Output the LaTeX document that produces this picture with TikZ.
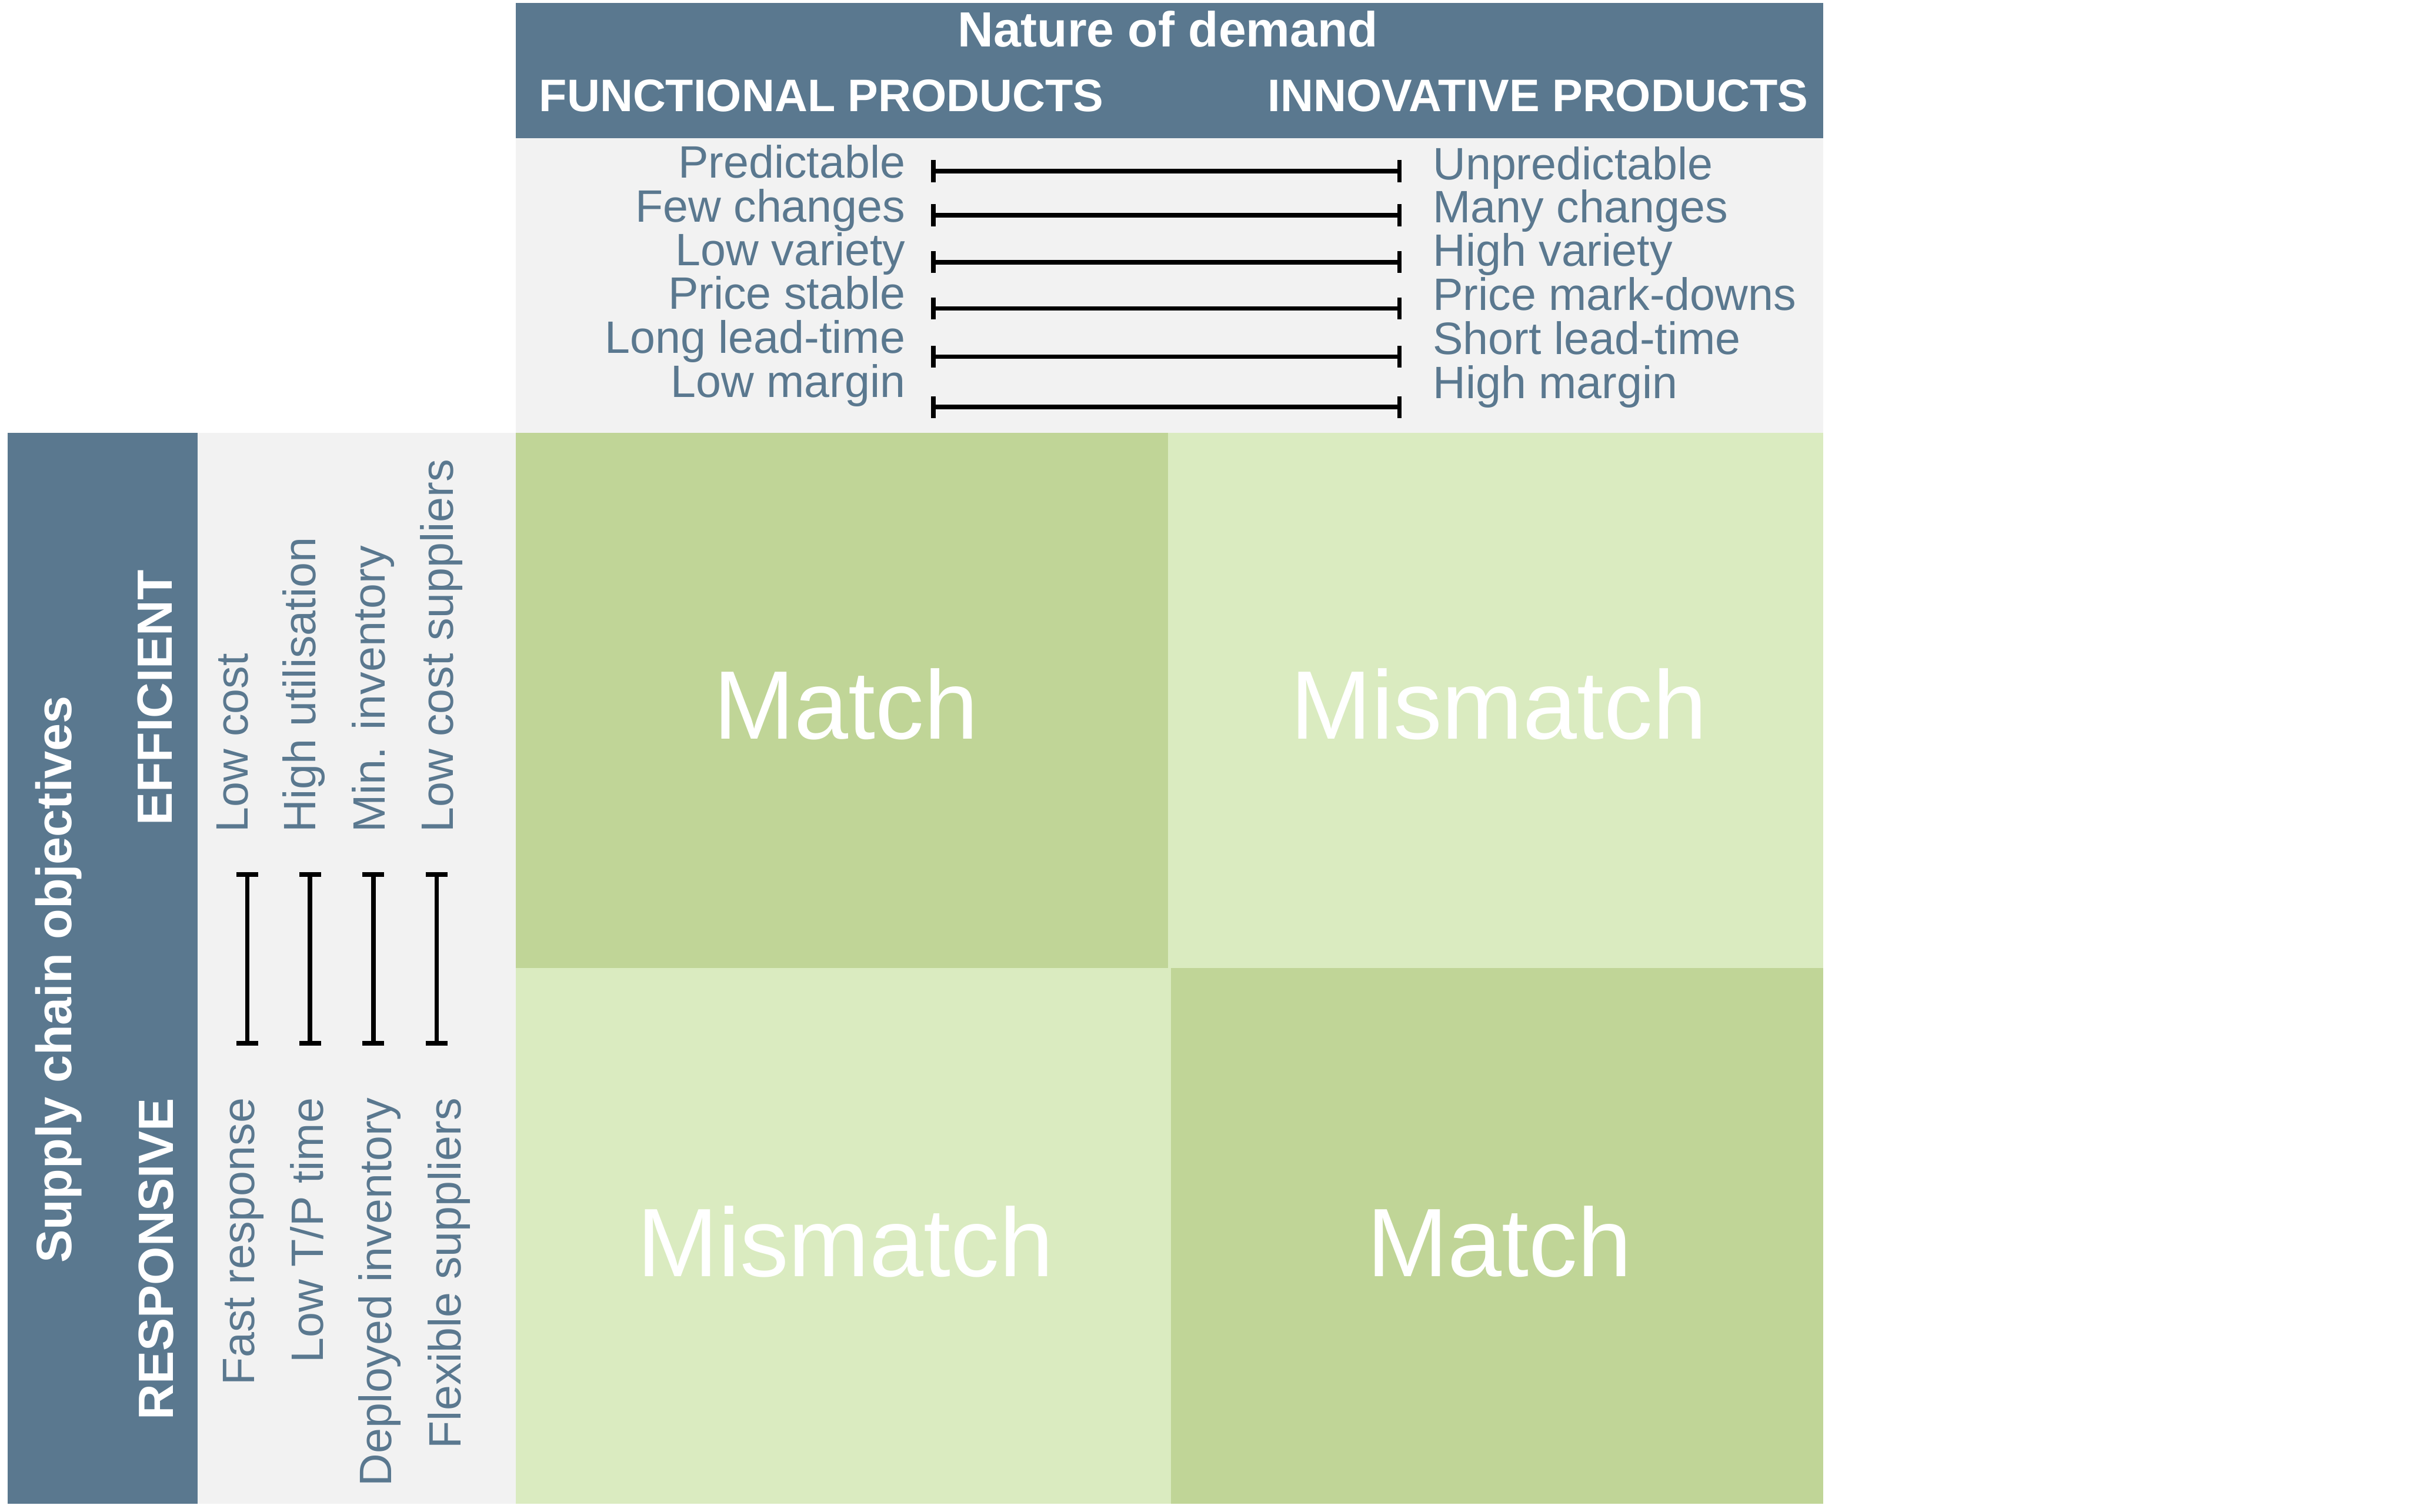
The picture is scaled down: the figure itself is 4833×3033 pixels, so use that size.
\documentclass[tikz,border=0pt]{standalone}
\usepackage{fontspec}
\setmainfont{Liberation Sans}
\usetikzlibrary{arrows.meta}
\definecolor{hdr}{HTML}{5A788F}
\definecolor{panel}{HTML}{F2F2F2}
\definecolor{dgreen}{HTML}{C0D597}
\definecolor{lgreen}{HTML}{DAEBC0}
\tikzset{
  lbl/.style={inner sep=0pt, text=hdr, font=\fontsize{25.9pt}{30pt}\selectfont},
  hbold/.style={inner sep=0pt, text=white, font=\fontsize{26pt}{30pt}\selectfont\bfseries},
  bigtxt/.style={inner sep=0pt, text=white, font=\fontsize{55.5pt}{60pt}\selectfont, anchor=base},
  rangebar/.style={line width=0.09cm, black, {Bar[width=0.44cm]}-{Bar[width=0.44cm]}}
}
\begin{document}
\begin{tikzpicture}[x=0.01cm,y=-0.01cm]
\useasboundingbox (0,0) rectangle (4833,3033);
% backgrounds
\fill[hdr] (1035,6) rectangle (3658,277);
\fill[panel] (1035,277) rectangle (3658,868);
\fill[hdr] (15,869) rectangle (396,3017);
\fill[panel] (396,869) rectangle (1035,3017);
\fill[dgreen] (1035,868) rectangle (2343,1942);
\fill[lgreen] (2343,868) rectangle (3658,1942);
\fill[lgreen] (1035,1942) rectangle (2349,3017);
\fill[dgreen] (2349,1942) rectangle (3658,3017);
% header texts
\node[hbold, anchor=base, font=\fontsize{28.2pt}{32pt}\selectfont\bfseries] (nature) at (2343,94) {Nature of demand};
\node[hbold, anchor=base west] (func) at (1081,224) {FUNCTIONAL PRODUCTS};
\node[hbold, anchor=base east] (innov) at (3628,224) {INNOVATIVE PRODUCTS};
% top labels
\node[lbl, anchor=base east] (l1) at (1817,357) {Predictable};
\node[lbl, anchor=base east] (l2) at (1817,445) {Few changes};
\node[lbl, anchor=base east] (l3) at (1817,533) {Low variety};
\node[lbl, anchor=base east] (l4) at (1817,620) {Price stable};
\node[lbl, anchor=base east] (l5) at (1817,709) {Long lead-time};
\node[lbl, anchor=base east] (l6) at (1817,797) {Low margin};
\node[lbl, anchor=base west] (r1) at (2874,360) {Unpredictable};
\node[lbl, anchor=base west] (r2) at (2874,447) {Many changes};
\node[lbl, anchor=base west] (r3) at (2874,534) {High variety};
\node[lbl, anchor=base west] (r4) at (2874,622) {Price mark-downs};
\node[lbl, anchor=base west] (r5) at (2874,711) {Short lead-time};
\node[lbl, anchor=base west] (r6) at (2874,799) {High margin};
% horizontal range bars
\foreach \i/\yy in {1/343.5,2/432,3/526,4/619,5/715.6,6/816.7}{
  \coordinate (ha\i) at (1868,\yy);
  \coordinate (hb\i) at (2812,\yy);
  \draw[rangebar] (ha\i) -- (hb\i);
}
% side titles
\node[hbold, anchor=base, rotate=90, font=\fontsize{28.4pt}{32pt}\selectfont\bfseries] (sco) at (143,1965) {Supply chain objectives};
\node[hbold, anchor=base, rotate=90, font=\fontsize{28.2pt}{32pt}\selectfont\bfseries] (eff) at (345,1400) {EFFICIENT};
\node[hbold, anchor=base, rotate=90, font=\fontsize{28.2pt}{32pt}\selectfont\bfseries] (resp) at (348,2526) {RESPONSIVE};
% side labels
\node[lbl, anchor=base west, rotate=90] (e1) at (497,1671) {Low cost};
\node[lbl, anchor=base west, rotate=90] (e2) at (633,1671) {High utilisation};
\node[lbl, anchor=base west, rotate=90] (e3) at (772,1671) {Min. inventory};
\node[lbl, anchor=base west, rotate=90] (e4) at (909,1671) {Low cost suppliers};
\node[lbl, anchor=base east, rotate=90] (s1) at (510,2202) {Fast response};
\node[lbl, anchor=base east, rotate=90] (s2) at (648,2202) {Low T/P time};
\node[lbl, anchor=base east, rotate=90] (s3) at (785,2202) {Deployed inventory};
\node[lbl, anchor=base east, rotate=90] (s4) at (924,2202) {Flexible suppliers};
% vertical range bars
\foreach \i/\xx in {1/496,2/622,3/749,4/876}{
  \coordinate (va\i) at (\xx,1750);
  \coordinate (vb\i) at (\xx,2098);
  \draw[rangebar] (va\i) -- (vb\i);
}
% matrix texts
\node[bigtxt] (m11) at (1697,1482) {Match};
\node[bigtxt] (m12) at (3007,1482) {Mismatch};
\node[bigtxt] (m21) at (1696,2561) {Mismatch};
\node[bigtxt] (m22) at (3008,2561) {Match};
\end{tikzpicture}
\end{document}
